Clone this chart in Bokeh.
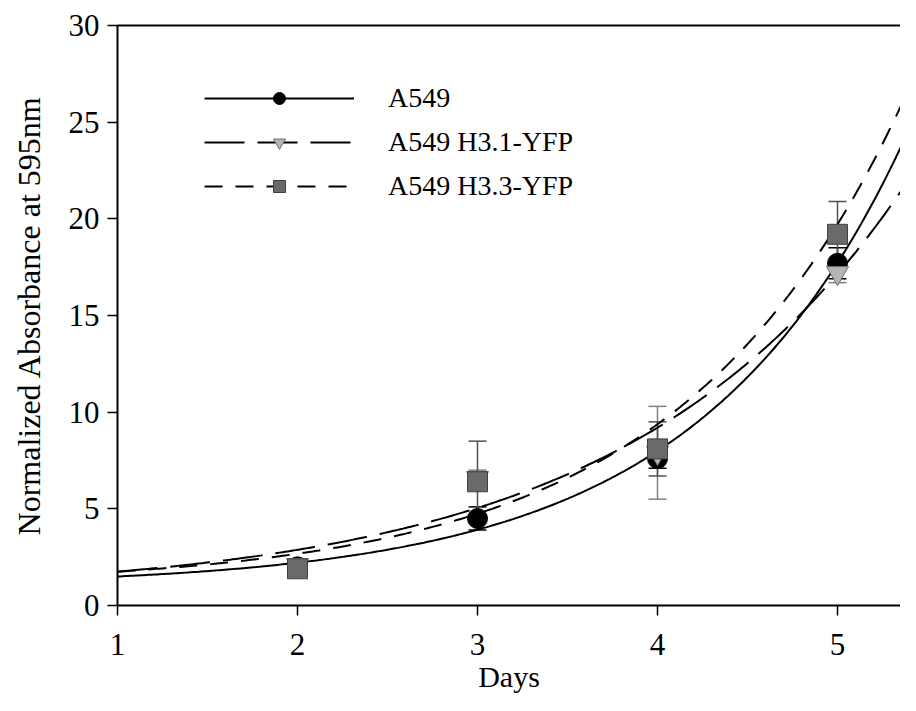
import numpy as np
from bokeh.plotting import figure
from bokeh.models import (Range1d, LinearAxis, Legend, LegendItem, Whisker,
                          ColumnDataSource, TeeHead, FixedTicker)
from bokeh.embed import file_html
from bokeh.resources import INLINE

# ---- data ----
days = [2, 3, 4, 5]
a549 = [2.0, 4.5, 7.6, 17.7]
a549_err = [0.2, 0.6, 0.5, 0.8]
h31 = [2.1, 6.6, 7.9, 17.2]
h31_err = [0.2, 0.4, 2.4, 0.5]
h33 = [1.9, 6.4, 8.1, 19.2]
h33_err = [0.2, 2.1, 1.4, 1.7]
x_ticks = [1, 2, 3, 4, 5]
y_ticks = [0, 5, 10, 15, 20, 25, 30]

# exponential growth regressions y = y0 + a*exp(b*x) (estimated from the drawn curves)
fit_a549 = (0.984, 0.216, 0.87)
fit_h31 = (0.514, 0.645, 0.65)
fit_h33 = (1.0, 0.336, 0.804)

FONT = "Liberation Serif"
W, H = 900, 695
LEFT, TOP, BOTTOM = 117, 25, 605
PX_PER_DAY = 180
X_END = 1 + (W - LEFT) / PX_PER_DAY

p = figure(width=W, height=H, output_backend="svg", toolbar_location=None,
           x_range=Range1d(1, X_END), y_range=Range1d(0, 30),
           min_border_left=LEFT, min_border_right=0, min_border_top=TOP,
           min_border_bottom=H - BOTTOM)
p.outline_line_color = None
p.xgrid.visible = False
p.ygrid.visible = False
p.background_fill_color = "white"
p.border_fill_color = "white"

for ax in (p.xaxis[0], p.yaxis[0]):
    ax.axis_line_width = 2
    ax.axis_line_color = "black"
    ax.major_tick_line_width = 1.5
    ax.major_tick_out = 10
    ax.major_tick_in = 0
    ax.minor_tick_line_color = None
    ax.major_label_text_font = FONT
    ax.major_label_text_font_size = "31px"
    ax.major_label_text_color = "black"
    ax.axis_label_text_font = FONT
    ax.axis_label_text_font_style = "normal"
    ax.axis_label_text_color = "black"

p.xaxis.ticker = FixedTicker(ticks=x_ticks)
p.yaxis.ticker = FixedTicker(ticks=y_ticks)
p.xaxis.axis_label = "Days"
p.xaxis.axis_label_text_font_size = "30px"
p.yaxis.axis_label = "Normalized Absorbance at 595nm"
p.yaxis.axis_label_text_font_size = "32px"
p.xaxis.major_label_standoff = 18
p.xaxis.axis_label_standoff = 2
p.yaxis.major_label_standoff = 8
p.yaxis.axis_label_standoff = 19

top = LinearAxis(ticker=FixedTicker(ticks=[]), axis_line_width=2,
                 major_tick_line_color=None, minor_tick_line_color=None,
                 major_label_text_font_size="0px")
p.add_layout(top, "above")

xs = np.linspace(1, X_END, 300)

def curve(params):
    y0, a, b = params
    return y0 + a * np.exp(b * xs)

series = [
    ("A549", a549, a549_err, fit_a549, "solid", "circle", 20, "black", "black", "black"),
    ("A549 H3.1-YFP", h31, h31_err, fit_h31, "40 13", "inverted_triangle", 22, "#b5b5b5", "#707070", "#808080"),
    ("A549 H3.3-YFP", h33, h33_err, fit_h33, "18 13", "square", 20, "#6a6a6a", "#404040", "#505050"),
]

line_rs = []
for name, vals, errs, fit, dash, marker, size, fill, edge, ecol in series:
    lr = p.line(xs, curve(fit), line_color="black", line_width=2, line_dash=dash)
    line_rs.append(lr)

for name, vals, errs, fit, dash, marker, size, fill, edge, ecol in series:
    src = ColumnDataSource(dict(x=days, y=vals,
                                upper=[v + e for v, e in zip(vals, errs)],
                                lower=[v - e for v, e in zip(vals, errs)]))
    w = Whisker(source=src, base="x", upper="upper", lower="lower",
                line_color=ecol, line_width=1.5,
                upper_head=TeeHead(size=18, line_color=ecol, line_width=1.5),
                lower_head=TeeHead(size=18, line_color=ecol, line_width=1.5))
    p.add_layout(w)

marker_rs = []
for name, vals, errs, fit, dash, marker, size, fill, edge, ecol in series:
    mr = p.scatter(days, vals, marker=marker, size=size, fill_color=fill,
                   line_color=edge, line_width=1)
    marker_rs.append(mr)

items = [LegendItem(label=s[0], renderers=[lr, mr])
         for s, lr, mr in zip(series, line_rs, marker_rs)]

legend = Legend(items=items, location=(87, 403), glyph_width=150, glyph_height=30,
                label_height=30, spacing=12, padding=0, margin=0,
                label_standoff=34, label_text_font=FONT,
                label_text_font_size="28px", label_text_color="black",
                border_line_color=None, background_fill_alpha=0)
p.add_layout(legend, "center")

open("out.html", "w").write(file_html(p, INLINE))
